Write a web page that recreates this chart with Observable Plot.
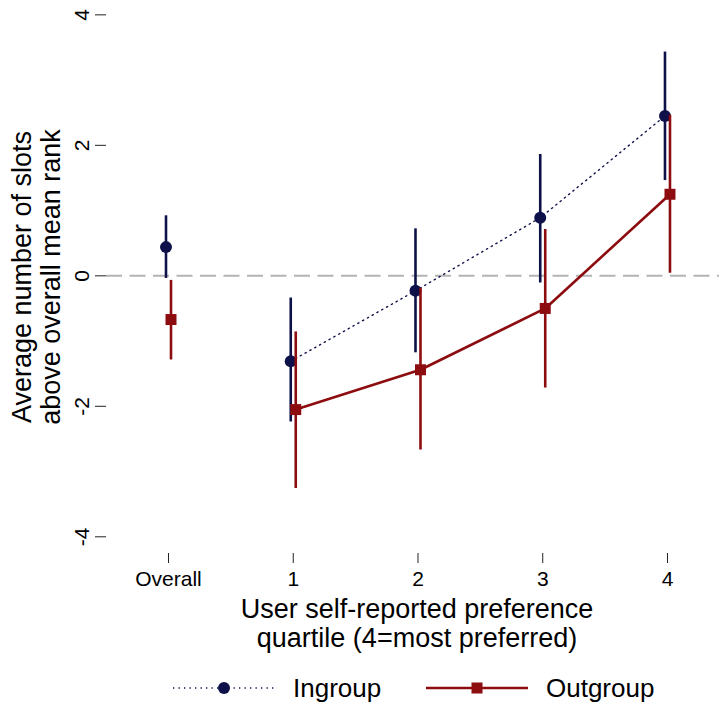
<!DOCTYPE html>
<html>
<head>
<meta charset="utf-8">
<script src="https://cdn.jsdelivr.net/npm/d3@7"></script>
<script src="https://cdn.jsdelivr.net/npm/@observablehq/plot@0.6"></script>
<style>
  body { margin: 0; background: #fff; font-family: "Liberation Sans", Arial, Helvetica, sans-serif; }
  #legend { position: relative; width: 719px; height: 56px; }
  .item { position: absolute; top: 24px; height: 28px; display: flex; align-items: center; font-size: 26px; color: #000; }
  .item svg { margin-right: 18px; }
</style>
</head>
<body>
<div id="chart"></div>
<div id="legend"></div>
<script>
// ---- data ----
const categories = ["Overall", "1", "2", "3", "4"];
const positions = [0, 1, 2, 3, 4];
const ingroupEst = [0.44, -1.31, -0.23, 0.89, 2.45];
const ingroupLo  = [-0.04, -2.24, -1.18, -0.11, 1.46];
const ingroupHi  = [0.92, -0.34, 0.72, 1.86, 3.43];
const outgroupEst = [-0.67, -2.05, -1.44, -0.50, 1.25];
const outgroupLo  = [-1.29, -3.26, -2.67, -1.72, 0.04];
const outgroupHi  = [-0.07, -0.86, -0.19, 0.71, 2.46];
const yTicks = [-4, -2, 0, 2, 4];
const seriesNames = ["Ingroup", "Outgroup"];
const xTitle = "User self-reported preference\nquartile (4=most preferred)";
const yTitle = "Average number of slots\nabove overall mean rank";

// ---- styles ----
const navy = "#0e1149";
const red = "#8c0c10";

const ingroup = positions.map((p, i) => ({x: p, est: ingroupEst[i], lo: ingroupLo[i], hi: ingroupHi[i]}));
const outgroup = positions.map((p, i) => ({x: p, est: outgroupEst[i], lo: outgroupLo[i], hi: outgroupHi[i]}));

const chart = Plot.plot({
  width: 719,
  height: 650,
  marginTop: 0,
  marginLeft: 106,
  marginRight: 0,
  marginBottom: 97,
  style: {fontFamily: '"Liberation Sans", Arial, Helvetica, sans-serif', fontSize: "21px", color: "#000", background: "#fff", overflow: "visible"},
  x: {domain: [-0.497, 4.417], axis: null},
  y: {domain: [-4.256, 4.22], axis: null},
  marks: [
    Plot.ruleY([0], {stroke: "#b4b4b4", strokeWidth: 2, strokeDasharray: "16,7.5"}),
    Plot.axisX({ticks: positions, tickFormat: d => categories[positions.indexOf(d)], tickSize: 10, tickPadding: 8, fontSize: 21, label: null, stroke: "#222"}),
    Plot.axisY({ticks: yTicks, tickSize: 11, tickRotate: -90, tickPadding: 7, tickFormat: d => String(d), fontSize: 21, label: null, stroke: "#222"}),
    Plot.text([xTitle], {text: d => d, frameAnchor: "bottom", textAnchor: "middle", lineAnchor: "top", dy: 45, dx: 4, fontSize: 27, lineHeight: 1.04}),
    Plot.text([yTitle], {text: d => d, frameAnchor: "left", rotate: -90, textAnchor: "middle", lineAnchor: "middle", dx: -70, fontSize: 27, lineHeight: 1.04}),
    // Ingroup
    Plot.ruleX(ingroup, {x: "x", y1: "lo", y2: "hi", stroke: navy, strokeWidth: 2.6, dx: -2.5}),
    Plot.line(ingroup.slice(1), {x: "x", y: "est", stroke: navy, strokeWidth: 1.4, strokeDasharray: "1.3,4.2", dx: -2.5}),
    Plot.dot(ingroup, {x: "x", y: "est", r: 6, fill: navy, stroke: "none", dx: -2.5}),
    // Outgroup
    Plot.ruleX(outgroup, {x: "x", y1: "lo", y2: "hi", stroke: red, strokeWidth: 2.6, dx: 2.5}),
    Plot.line(outgroup.slice(1), {x: "x", y: "est", stroke: red, strokeWidth: 2.6, dx: 2.5}),
    Plot.dot(outgroup, {x: "x", y: "est", r: 6.2, symbol: "square", fill: red, stroke: "none", dx: 2.5})
  ]
});
document.getElementById("chart").appendChild(chart);

// ---- legend ----
const legend = document.getElementById("legend");
function addItem(left, name, color, dotted, square) {
  const div = document.createElement("div");
  div.className = "item";
  div.style.left = left + "px";
  const dash = dotted ? 'stroke-dasharray="1.3,4.2" stroke-width="1.4"' : 'stroke-width="2.6"';
  const marker = square
    ? `<rect x="45.5" y="8.5" width="11" height="11" fill="${color}"/>`
    : `<circle cx="51" cy="14" r="6" fill="${color}"/>`;
  div.innerHTML = `<svg width="102" height="28"><line x1="0" y1="14" x2="102" y2="14" stroke="${color}" ${dash}/>${marker}</svg><span>${name}</span>`;
  legend.appendChild(div);
}
addItem(173, seriesNames[0], navy, true, false);
addItem(426, seriesNames[1], red, false, true);
</script>
</body>
</html>
